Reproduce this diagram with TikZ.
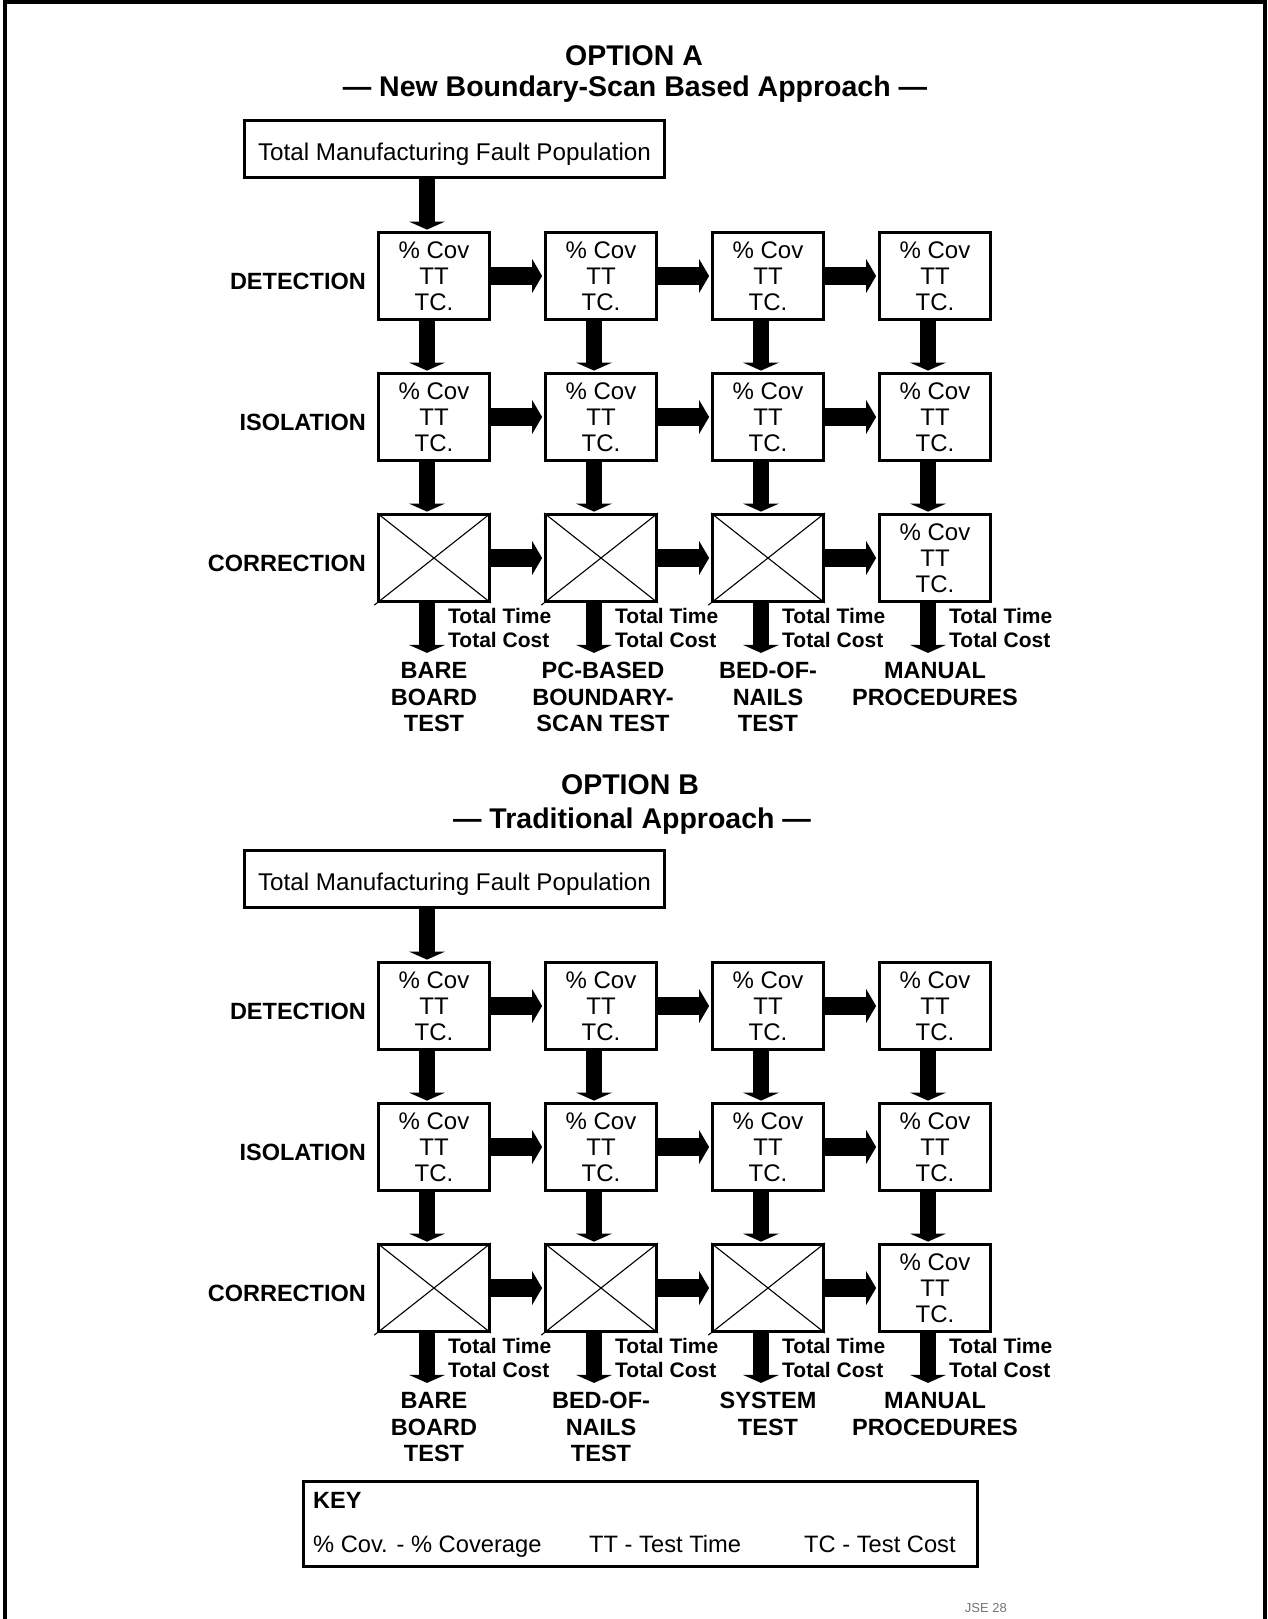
\documentclass[tikz,border=0pt]{standalone}
\usepackage{fontspec}
\setmainfont{Liberation Sans}
\usetikzlibrary{arrows.meta,calc}

\tikzset{
  cell/.style={draw, line width=2.8pt, minimum width=111pt, minimum height=87pt,
    inner sep=0pt, align=center, font=\fontsize{24pt}{26pt}\selectfont},
  popbox/.style={draw, line width=2.8pt, minimum width=420pt, minimum height=57pt,
    inner sep=0pt, text height=22pt, text depth=0pt, font=\fontsize{24.2pt}{26pt}\selectfont},
  hflow/.style={line width=18pt, -{Triangle[length=10pt,width=34pt,line width=0pt]}, shorten >=2pt},
  vflow/.style={line width=16pt, -{Triangle[length=8pt,width=36pt,line width=0pt]}, shorten >=1.5pt},
  diag/.style={line width=1.1pt},
  rowlabel/.style={anchor=base east, inner sep=0pt, font=\bfseries\fontsize{23.5pt}{26pt}\selectfont},
  totals/.style={anchor=north west, inner sep=0pt, align=left, font=\bfseries\fontsize{21pt}{24pt}\selectfont},
  testname/.style={anchor=north, inner sep=0pt, align=center, font=\bfseries\fontsize{23.5pt}{26.5pt}\selectfont},
  heading/.style={anchor=base, inner sep=0pt, font=\bfseries\fontsize{28.5pt}{30pt}\selectfont},
  keytext/.style={anchor=base west, inner sep=0pt, font=\fontsize{23.7pt}{26pt}\selectfont},
  keybox/.style={draw, line width=2.8pt, minimum width=674pt, minimum height=85pt, inner sep=0pt},
  tag/.style={anchor=base east, inner sep=0pt, text=black!55, font=\fontsize{13pt}{15pt}\selectfont},
}

\begin{document}
\begin{tikzpicture}[x=1pt,y=-1pt]
\useasboundingbox (0,0) rectangle (1267,1619);
% page frame, open at the bottom
\draw[line width=4pt] (5,1640) -- (5,2.5) -- (1265,2.5) -- (1265,1640);

% headings
\node[heading] (ha1) at (634,66) {OPTION A};
\node[heading] (ha2) at (635,96) {— New Boundary-Scan Based Approach —};
\node[heading] (hb1) at (630,794) {OPTION B};
\node[heading] (hb2) at (632,828) {— Traditional Approach —};

% the two flow grids
\foreach \p/\dy in {a/0,b/730} {
  \node[popbox] (\p pop) at (454.5,149+\dy) {Total Manufacturing Fault Population};

  \foreach \c/\x in {1/434,2/601,3/768,4/935} {
    \node[cell] (\p d\c) at (\x,276+\dy) {\% Cov\\TT\\TC.};
    \node[cell] (\p i\c) at (\x,417+\dy) {\% Cov\\TT\\TC.};
  }
  \foreach \c/\x in {1/434,2/601,3/768} {
    \node[cell] (\p c\c) at (\x,558+\dy) {};
    \draw[diag] ($(\p c\c.south west)!-0.025!(\p c\c.north east)$) -- (\p c\c.north east);
    \draw[diag] (\p c\c.north west) -- (\p c\c.south east);
  }
  \node[cell] (\p c4) at (935,558+\dy) {\% Cov\\TT\\TC.};

  \node[rowlabel] (\p ld) at (366,289+\dy) {DETECTION};
  \node[rowlabel] (\p li) at (366,430+\dy) {ISOLATION};
  \node[rowlabel] (\p lc) at (366,571+\dy) {CORRECTION};

  \draw[vflow] ($(\p pop.south -| \p d1.north)+(-7,0)$) -- ([xshift=-7pt]\p d1.north);

  \foreach \r in {d,i,c} {
    \foreach \c/\n in {1/2,2/3,3/4} {
      \draw[hflow] (\p\r\c.east) -- (\p\r\n.west);
    }
  }
  \foreach \c in {1,...,4} {
    \draw[vflow] ([xshift=-7pt]\p d\c.south) -- ([xshift=-7pt]\p i\c.north);
    \draw[vflow] ([xshift=-7pt]\p i\c.south) -- ([xshift=-7pt]\p c\c.north);
    \coordinate (\p o\c) at ([xshift=-7pt,yshift=-50pt]\p c\c.south);
    \draw[vflow, shorten >=0pt] ([xshift=-7pt]\p c\c.south) -- (\p o\c);
    \node[totals] (\p t\c) at ($(\p c\c.center)+(14,49.7)$) {Total Time\\Total Cost};
  }
}

% test stage names, option A
\node[testname] (an1) at ($(ac1.center)+(0,104.2)$) {BARE\\BOARD\\TEST};
\node[testname] (an2) at ($(ac2.center)+(2,104.2)$) {PC-BASED\\BOUNDARY-\\SCAN TEST};
\node[testname] (an3) at ($(ac3.center)+(0,104.2)$) {BED-OF-\\NAILS\\TEST};
\node[testname] (an4) at ($(ac4.center)+(0,104.2)$) {MANUAL\\PROCEDURES};

% test stage names, option B
\node[testname] (bn1) at ($(bc1.center)+(0,104.2)$) {BARE\\BOARD\\TEST};
\node[testname] (bn2) at ($(bc2.center)+(0,104.2)$) {BED-OF-\\NAILS\\TEST};
\node[testname] (bn3) at ($(bc3.center)+(0,104.2)$) {SYSTEM\\TEST};
\node[testname] (bn4) at ($(bc4.center)+(0,104.2)$) {MANUAL\\PROCEDURES};

% key
\node[keybox] (key) at (640.5,1524) {};
\node[keytext, font=\bfseries\fontsize{23.5pt}{26pt}\selectfont] (keyhead) at (313,1508) {KEY};
\node[keytext] (k1) at (313,1552) {\% Cov. - \% Coverage};
\node[keytext] (k2) at (589,1552) {TT - Test Time};
\node[keytext] (k3) at (804,1552) {TC - Test Cost};

\node[tag] (code) at (1007,1612) {JSE 28};
\end{tikzpicture}
\end{document}
